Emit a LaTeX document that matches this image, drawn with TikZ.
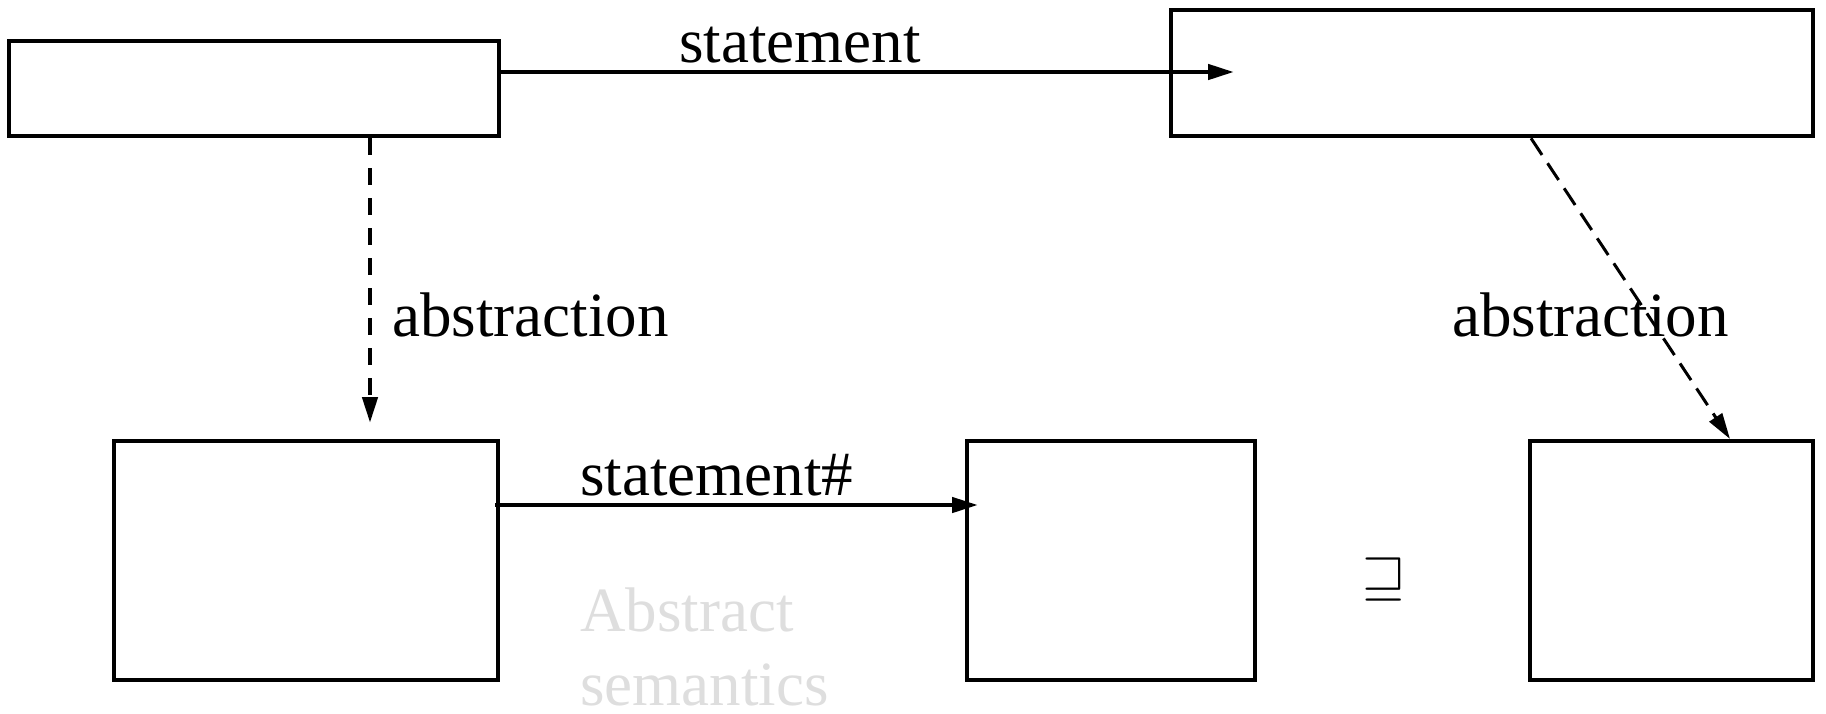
\documentclass[tikz,border=0pt]{standalone}
\usepackage{graphicx}
\usepackage{fontspec}
\setmainfont{Liberation Serif}
\usetikzlibrary{arrows.meta,calc}
\begin{document}
\begin{tikzpicture}[x=1pt,y=-1pt,
  box/.style={draw, line width=4.5pt, inner sep=0pt},
  lbl/.style={anchor=base west, inner sep=0pt, font=\fontsize{63}{76}\selectfont},
  tip/.style={-{Triangle[length=26pt,width=15pt]}},
  flow/.style={tip, line width=4.5pt},
  absL/.style={tip, line width=4.5pt, dash pattern=on 17pt off 13pt},
  absR/.style={tip, line width=3pt, dash pattern=on 20pt off 10pt},
]
\useasboundingbox (0,0) rectangle (1826,713);

% concrete states (top) and abstract states (bottom)
\node[box, minimum width=490pt, minimum height=95pt]  (concIn)  at (254,88.5) {};
\node[box, minimum width=642pt, minimum height=126pt] (concOut) at (1492,73) {};
\node[box, minimum width=384pt, minimum height=239pt] (absIn)   at (306,560.5) {};
\node[box, minimum width=288pt, minimum height=239pt] (absOut)  at (1111,560.5) {};
\node[box, minimum width=283pt, minimum height=239pt] (absRef)  at (1671.5,560.5) {};

% connector end points
\coordinate (tipS) at (1234,72);
\coordinate (tipL) at (370,423);
\coordinate (srcR) at (1531,0);
\coordinate (tipR) at (1730,439);
\coordinate (tipH) at (978,505);

\draw[flow] (concIn.east |- tipS) -- (tipS);
\draw[absL] (concIn.south -| tipL) -- (tipL);
\draw[absR] (concOut.south -| srcR) -- (tipR);
\draw[flow] ($(absIn.east |- tipH)+(-5,0)$) -- (tipH);

% labels
\node[lbl] (lStmt)  at (679,62)   {statement};
\node[lbl] (lAbsL)  at (392,336)  {abstraction};
\node[lbl] (lAbsR)  at (1452,336) {abstraction};
\node[lbl] (lStmtH) at (580,495)  {statement\#};
\node[lbl, text=black!13] (lSem1) at (580,631) {Abstract};
\node[lbl, text=black!13] (lSem2) at (580,705) {semantics};
\node[inner sep=0pt] (order) at (1384,579) {\scalebox{5.6}{$\sqsupseteq$}};
\end{tikzpicture}
\end{document}
